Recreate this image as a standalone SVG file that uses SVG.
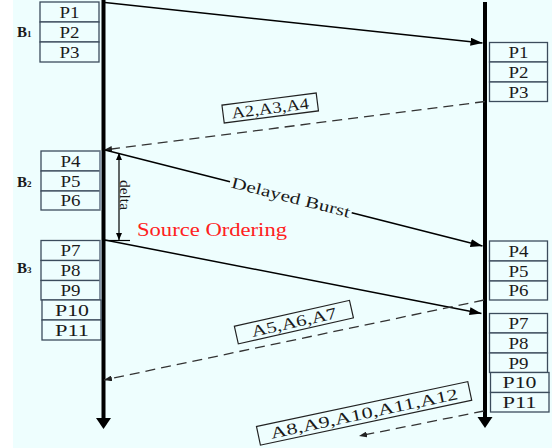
<svg xmlns="http://www.w3.org/2000/svg" width="552" height="448" viewBox="0 0 552 448">
<defs>
<style>
.bx{fill:#eefefe;stroke:#3c4c5c;stroke-width:1.3}
.pt{font-family:"Liberation Serif",serif;font-size:16px;fill:#1a1a1a;text-anchor:middle}
.bl{font-family:"Liberation Serif",serif;font-weight:bold;fill:#1a1a1a}
.tl{stroke:#000;stroke-width:4}
.sl{stroke:#000;stroke-width:1.5;fill:none}
.dl{stroke:#333;stroke-width:1.3;stroke-dasharray:10 6;fill:none}
.lb{fill:#eefefe;stroke:#222;stroke-width:1.2}
.lt{font-family:"Liberation Serif",serif;font-size:16px;fill:#1a1a1a;text-anchor:middle}
</style>
<marker id="arr" viewBox="0 0 12 8" refX="12" refY="4" markerWidth="12" markerHeight="8" markerUnits="userSpaceOnUse" orient="auto"><path d="M0,0 L12,4 L0,8 z" fill="#000"/></marker>
<marker id="arrs" viewBox="0 0 8 6" refX="8" refY="3" markerWidth="8" markerHeight="6" markerUnits="userSpaceOnUse" orient="auto"><path d="M0,0 L8,3 L0,6 z" fill="#222"/></marker>
<marker id="arrd" viewBox="0 0 7 6" refX="7" refY="3" markerWidth="7" markerHeight="6" markerUnits="userSpaceOnUse" orient="auto-start-reverse"><path d="M0,0 L7,3 L0,6 z" fill="#000"/></marker>
</defs>
<rect x="0" y="0" width="552" height="448" fill="#ffffff"/>
<rect x="13" y="0" width="539" height="448" fill="#eefefe"/>

<g id="timelines">
<line class="tl" x1="103.5" y1="0" x2="103.5" y2="420"/>
<polygon points="96,418 111,418 103.5,429" fill="#000"/>
<line class="tl" x1="485" y1="2" x2="485" y2="418"/>
<polygon points="477.5,417 492.5,417 485,428" fill="#000"/>
</g>

<g id="B1">
<rect class="bx" x="40" y="2" width="59" height="20"/>
<rect class="bx" x="40" y="22" width="59" height="20"/>
<rect class="bx" x="40" y="42" width="59" height="20"/>
<text class="pt" x="69.5" y="17.5" textLength="20" lengthAdjust="spacingAndGlyphs">P1</text>
<text class="pt" x="69.5" y="37.5" textLength="20" lengthAdjust="spacingAndGlyphs">P2</text>
<text class="pt" x="69.5" y="57.5" textLength="20" lengthAdjust="spacingAndGlyphs">P3</text>
<text class="bl" x="17" y="36.5" font-size="15">B<tspan font-size="9">1</tspan></text>
</g>

<g id="B2">
<rect class="bx" x="41" y="151" width="59" height="20"/>
<rect class="bx" x="41" y="171" width="59" height="20"/>
<rect class="bx" x="41" y="191" width="59" height="19"/>
<line x1="100.5" y1="151" x2="100.5" y2="210" stroke="#8a9aaa" stroke-width="2"/>
<text class="pt" x="70.5" y="166.5" textLength="20" lengthAdjust="spacingAndGlyphs">P4</text>
<text class="pt" x="70.5" y="186.5" textLength="20" lengthAdjust="spacingAndGlyphs">P5</text>
<text class="pt" x="70.5" y="206" textLength="20" lengthAdjust="spacingAndGlyphs">P6</text>
<text class="bl" x="17" y="187" font-size="15">B<tspan font-size="9">2</tspan></text>
</g>

<g id="B3">
<rect class="bx" x="41" y="240.5" width="59" height="20"/>
<rect class="bx" x="41" y="260.5" width="59" height="20"/>
<rect class="bx" x="41" y="280.5" width="59" height="19.5"/>
<line x1="100.5" y1="240.5" x2="100.5" y2="300" stroke="#8a9aaa" stroke-width="2"/>
<rect class="bx" x="42" y="300" width="59" height="20"/>
<rect class="bx" x="42" y="320" width="59" height="20"/>
<text class="pt" x="70.5" y="256" textLength="20" lengthAdjust="spacingAndGlyphs">P7</text>
<text class="pt" x="70.5" y="276" textLength="20" lengthAdjust="spacingAndGlyphs">P8</text>
<text class="pt" x="70.5" y="296" textLength="20" lengthAdjust="spacingAndGlyphs">P9</text>
<text class="pt" x="72" y="316" textLength="34" lengthAdjust="spacingAndGlyphs">P10</text>
<text class="pt" x="72" y="336" textLength="34" lengthAdjust="spacingAndGlyphs">P11</text>
<text class="bl" x="17" y="273" font-size="15">B<tspan font-size="9">3</tspan></text>
</g>

<g id="R1">
<rect class="bx" x="489.5" y="42.5" width="58" height="19.5"/>
<rect class="bx" x="489.5" y="62" width="58" height="20"/>
<rect class="bx" x="489.5" y="82" width="58" height="19.5"/>
<text class="pt" x="518.5" y="58" textLength="20" lengthAdjust="spacingAndGlyphs">P1</text>
<text class="pt" x="518.5" y="77.5" textLength="20" lengthAdjust="spacingAndGlyphs">P2</text>
<text class="pt" x="518.5" y="97.5" textLength="20" lengthAdjust="spacingAndGlyphs">P3</text>
</g>

<g id="R2">
<rect class="bx" x="489.5" y="241" width="58" height="20"/>
<rect class="bx" x="489.5" y="261" width="58" height="20"/>
<rect class="bx" x="489.5" y="281" width="58" height="19"/>
<text class="pt" x="518.5" y="256.5" textLength="20" lengthAdjust="spacingAndGlyphs">P4</text>
<text class="pt" x="518.5" y="276.5" textLength="20" lengthAdjust="spacingAndGlyphs">P5</text>
<text class="pt" x="518.5" y="296" textLength="20" lengthAdjust="spacingAndGlyphs">P6</text>
</g>

<g id="R3">
<rect class="bx" x="489.5" y="313.5" width="58" height="19.5"/>
<rect class="bx" x="489.5" y="333" width="58" height="20"/>
<rect class="bx" x="489.5" y="353" width="58" height="19.5"/>
<rect class="bx" x="490.5" y="372.5" width="58.5" height="20"/>
<rect class="bx" x="490.5" y="392.5" width="58.5" height="19.5"/>
<text class="pt" x="518.5" y="329" textLength="20" lengthAdjust="spacingAndGlyphs">P7</text>
<text class="pt" x="518.5" y="348.5" textLength="20" lengthAdjust="spacingAndGlyphs">P8</text>
<text class="pt" x="518.5" y="368.5" textLength="20" lengthAdjust="spacingAndGlyphs">P9</text>
<text class="pt" x="519.5" y="388" textLength="34" lengthAdjust="spacingAndGlyphs">P10</text>
<text class="pt" x="519.5" y="408" textLength="34" lengthAdjust="spacingAndGlyphs">P11</text>
</g>

<g id="connectors">
<line class="sl" x1="105" y1="2.5" x2="482.5" y2="43" marker-end="url(#arr)"/>
<line class="dl" x1="485" y1="101.5" x2="104" y2="150" marker-end="url(#arrs)"/>
<line class="sl" x1="105" y1="150" x2="230" y2="181.8"/>
<line class="sl" x1="351.7" y1="212.8" x2="482.5" y2="246" marker-end="url(#arr)"/>
<line class="sl" x1="105" y1="240" x2="481.5" y2="313.5" marker-end="url(#arr)"/>
<line class="dl" x1="484" y1="300" x2="104" y2="380" marker-end="url(#arrs)"/>
<line class="dl" x1="484" y1="411" x2="359" y2="436" marker-end="url(#arrs)"/>
<line x1="119" y1="153" x2="119" y2="240" stroke="#000" stroke-width="1.2" marker-start="url(#arrd)" marker-end="url(#arrd)"/>
<line x1="103" y1="240.5" x2="130" y2="240.5" stroke="#000" stroke-width="1.2"/>
</g>

<g id="labels">
<text x="291" y="197.2" transform="rotate(14.3 291 197.2)" class="lt" dominant-baseline="central" font-size="17" textLength="122" lengthAdjust="spacingAndGlyphs">Delayed Burst</text>
<text x="125" y="195" transform="rotate(90 125 195)" font-family="Liberation Serif, serif" font-size="15" fill="#1a1a1a" text-anchor="middle" dominant-baseline="central" textLength="30" lengthAdjust="spacingAndGlyphs">delta</text>
<text x="137" y="236" font-family="Liberation Serif, serif" font-size="18" fill="#ff2020" textLength="150" lengthAdjust="spacingAndGlyphs">Source Ordering</text>
<g id="ack1" transform="translate(270.2 108) rotate(-7.3)">
<rect class="lb" x="-47.5" y="-9" width="95" height="18"/>
<text class="lt" x="0" y="5.5" textLength="78" lengthAdjust="spacingAndGlyphs">A2,A3,A4</text>
</g>
<g id="ack2" transform="translate(293.9 322.1) rotate(-12.7)">
<rect class="lb" x="-59" y="-9" width="118" height="18"/>
<text class="lt" x="0" y="5.5" textLength="87" lengthAdjust="spacingAndGlyphs">A5,A6,A7</text>
</g>
<g id="ack3" transform="translate(364.1 413.4) rotate(-12)">
<rect class="lb" x="-108" y="-9.5" width="216" height="19"/>
<text class="lt" x="0" y="5.5" textLength="191" lengthAdjust="spacingAndGlyphs">A8,A9,A10,A11,A12</text>
</g>
</g>
</svg>
